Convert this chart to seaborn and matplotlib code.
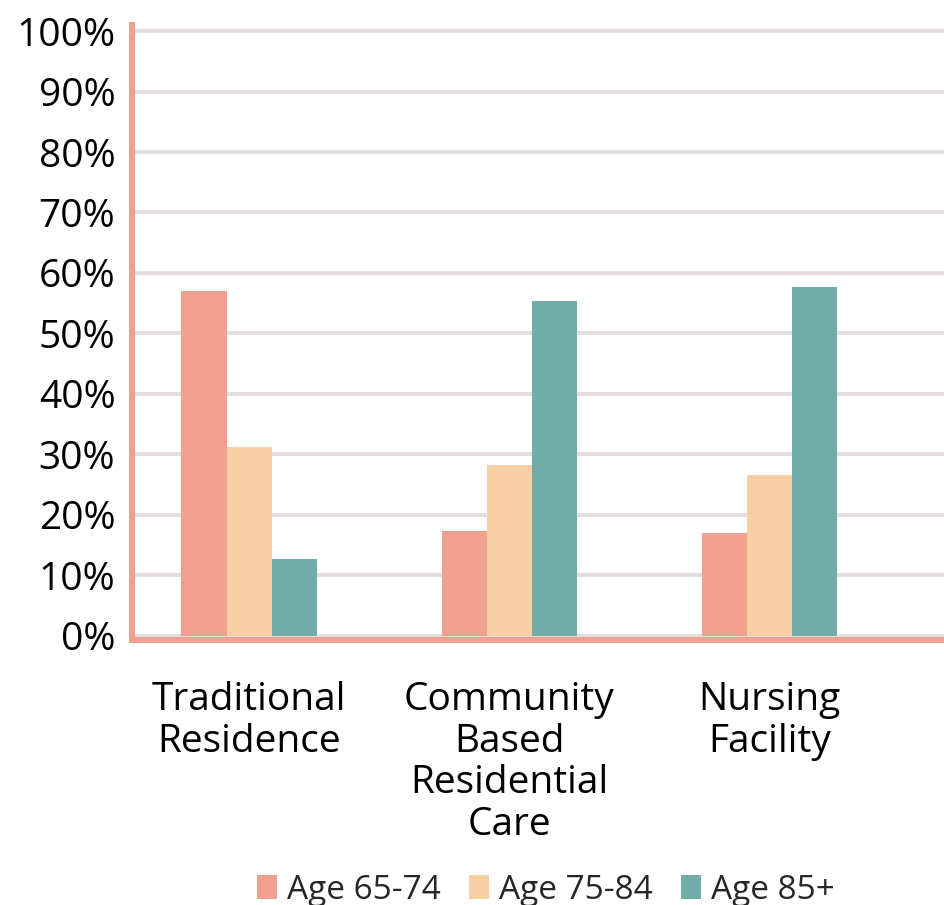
import matplotlib
matplotlib.use("Agg")
import matplotlib.pyplot as plt
import seaborn as sns
import pandas as pd
import numpy as np

# Living setting by age group (share of residents)
settings = ["Traditional\nResidence", "Community\nBased\nResidential\nCare", "Nursing\nFacility"]
age_groups = ["Age 65-74", "Age 75-84", "Age 85+"]
age_65_74 = [0.57, 0.174, 0.170]
age_75_84 = [0.312, 0.283, 0.266]
age_85_plus = [0.127, 0.554, 0.577]
colors = ["#EFA08E", "#F7D0A6", "#71ADA8"]
y_ticks = [0.0, 0.1, 0.2, 0.3, 0.4, 0.5, 0.6, 0.7, 0.8, 0.9, 1.0]
y_tick_labels = ["0%", "10%", "20%", "30%", "40%", "50%", "60%", "70%", "80%", "90%", "100%"]

df = pd.DataFrame({
    "setting": np.repeat(settings, 3),
    "age": age_groups * 3,
    "share": [v for trio in zip(age_65_74, age_75_84, age_85_plus) for v in trio],
})

sns.set_style("white")
plt.rcParams["font.family"] = ["Open Sans", "DejaVu Sans"]

fig = plt.figure(figsize=(9.44, 9.05), dpi=100)
ax = fig.add_axes([0.1398, 0.2933, 0.8602, 0.6791])

sns.barplot(data=df, x="setting", y="share", hue="age", order=settings,
            hue_order=age_groups, palette=colors, saturation=1, width=0.52,
            gap=0, linewidth=0, edgecolor="none", ax=ax, legend=True)

ax.set_xlim(-0.45, 2.67)
ax.set_ylim(-0.006, 1.01)
ax.set_yticks(y_ticks)
ax.set_yticklabels(y_tick_labels)
ax.set_xlabel("")
ax.set_ylabel("")

ax.set_axisbelow(True)
ax.yaxis.grid(True, color="#E4DEE3", linewidth=2.9)
ax.xaxis.grid(False)

for side in ["top", "right"]:
    ax.spines[side].set_visible(False)
for side in ["left", "bottom"]:
    ax.spines[side].set_color("#EFA08E")
    ax.spines[side].set_linewidth(4.3)

ax.tick_params(axis="y", length=0, pad=12, labelsize=28, labelcolor="black")
ax.tick_params(axis="x", length=0, pad=30, labelsize=28, labelcolor="black")
for lbl in ax.get_xticklabels():
    lbl.set_linespacing(1.12)

handles, labels = ax.get_legend_handles_labels()
ax.legend(handles, labels, loc="center", bbox_to_anchor=(0.51, -0.408), ncol=3,
          frameon=False, fontsize=24, handlelength=0.6, handleheight=0.75,
          handletextpad=0.3, columnspacing=0.85, borderaxespad=0)

fig.savefig("out.png", dpi=100, facecolor="white")
